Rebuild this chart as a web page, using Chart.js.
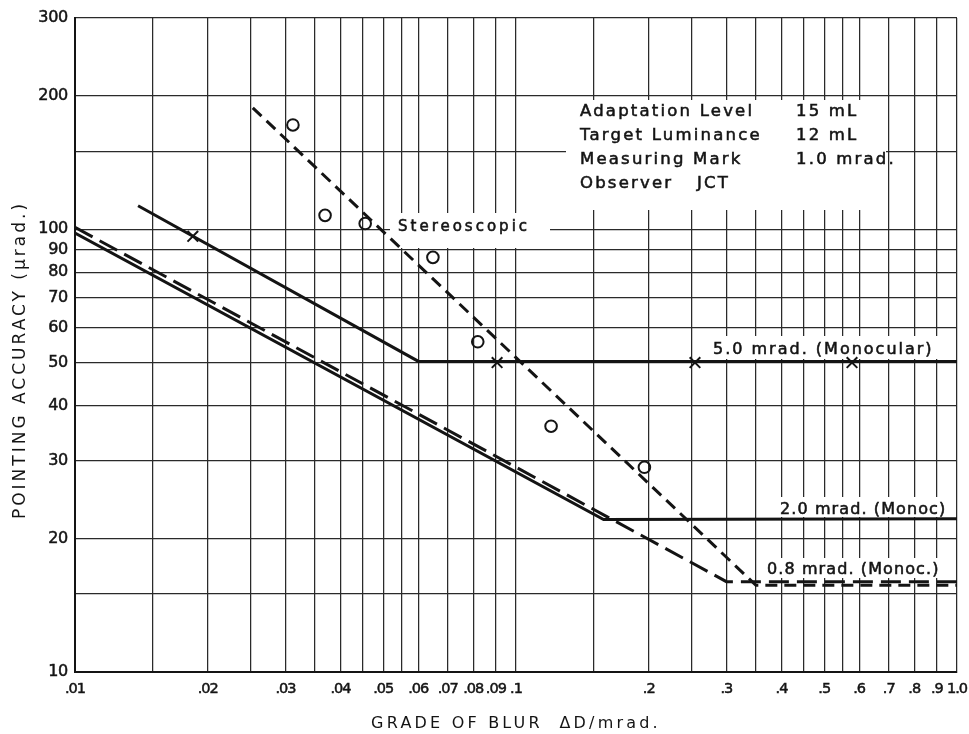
<!DOCTYPE html>
<html>
<head>
<meta charset="utf-8">
<script src="https://cdn.jsdelivr.net/npm/chart.js@4.4.1/dist/chart.umd.min.js"></script>
<style>
  html, body { margin: 0; padding: 0; background: #fff; }
  canvas { display: block; }
</style>
</head>
<body>
<canvas id="c" width="969" height="734" style="width:969px;height:734px"></canvas>
<script>
// ---- Data ----
const xGridValues = [0.01, 0.015, 0.02, 0.025, 0.03, 0.035, 0.04, 0.045, 0.05, 0.055, 0.06, 0.07, 0.08, 0.09, 0.1,
                     0.15, 0.2, 0.25, 0.3, 0.35, 0.4, 0.45, 0.5, 0.55, 0.6, 0.7, 0.8, 0.9, 1.0];
const xTickLabels = ['.01', '', '.02', '', '.03', '', '.04', '', '.05', '', '.06', '.07', '.08', '.09', '.1',
                     '', '.2', '', '.3', '', '.4', '', '.5', '', '.6', '.7', '.8', '.9', '1.0'];
const yGridValues = [10, 15, 20, 30, 40, 50, 60, 70, 80, 90, 100, 150, 200, 300];
const yTickLabels = ['10', '', '20', '30', '40', '50', '60', '70', '80', '90', '100', '', '200', '300'];

// Fitted curves
const mono50X = [0.0139, 0.0601, 1.0];
const mono50Y = [113, 50.3, 50.3];
const mono20X = [0.01, 0.158, 1.0];
const mono20Y = [98, 22.1, 22.2];
const mono08X = [0.01, 0.30, 1.0];
const mono08Y = [101, 16.0, 16.0];
const stereoX = [0.0253, 0.35, 1.0];
const stereoY = [188, 15.7, 15.7];

// Measured points
const stereoPtsX = [0.0312, 0.0369, 0.0455, 0.0648, 0.0819, 0.1201, 0.1955];
const stereoPtsY = [172, 107.5, 103, 86.4, 55.7, 35.9, 29.0];
const monoPtsX = [0.0185, 0.0906, 0.2546, 0.578];
const monoPtsY = [96.4, 50, 50, 50];

// Text
const noteLabels = ['Adaptation Level', 'Target Luminance', 'Measuring Mark', 'Observer'];
const noteValues = ['15 mL', '12 mL', '1.0 mrad.', 'JCT'];
const stereoLabel = 'Stereoscopic';
const curveLabels = ['5.0 mrad. (Monocular)', '2.0 mrad. (Monoc)', '0.8 mrad. (Monoc.)'];
const xTitle = 'GRADE OF BLUR  ΔD/mrad.';
const yTitle = 'POINTING ACCURACY (µrad.)';

const pts = (xs, ys) => xs.map((x, i) => ({ x: x, y: ys[i] }));
const INK = '#141414';
const FONT = '"DejaVu Sans", sans-serif';

const bgPlugin = {
  id: 'bg',
  beforeDraw(chart) {
    const c = chart.ctx;
    c.save();
    c.fillStyle = '#fff';
    c.fillRect(0, 0, chart.width, chart.height);
    c.restore();
    // letter-spaced axis titles and tick labels
    Object.values(chart.scales).forEach(s => {
      if (!s._lsPatched) {
        const origTitle = s.drawTitle.bind(s);
        s.drawTitle = function () {
          const k = chart.ctx;
          k.save();
          if (s.axis === 'x') {
            k.letterSpacing = '3.2px';
          } else {
            k.letterSpacing = '3px';
            k.translate(0, 15);
          }
          origTitle();
          k.restore();
        };
        const origLabels = s.drawLabels.bind(s);
        s.drawLabels = function (area) {
          const k = chart.ctx;
          k.save();
          k.letterSpacing = s.axis === 'x' ? '-1px' : '-0.3px';
          origLabels(area);
          k.restore();
        };
        s._lsPatched = true;
      }
    });
  }
};

function boldText(c, t, x, y) {
  c.fillText(t, x, y);
  c.strokeText(t, x, y);
}

const notePlugin = {
  id: 'notes',
  beforeDatasetsDraw(chart) {
    const c = chart.ctx;
    c.save();
    // white backgrounds that interrupt the grid
    c.fillStyle = '#fff';
    c.fillRect(566, 100, 320, 110);   // info block
    c.fillRect(390, 213, 160, 35);    // Stereoscopic
    c.fillRect(702, 336, 246, 23);    // 5.0
    c.fillRect(772, 497, 178, 20);    // 2.0
    c.fillRect(760, 558, 190, 20);    // 0.8

    c.fillStyle = INK;
    c.strokeStyle = INK;
    c.lineWidth = 0.55;
    c.textBaseline = 'middle';
    c.textAlign = 'left';
    c.font = '16.5px ' + FONT;
    c.letterSpacing = '2.2px';
    const rows = [112, 136, 160, 184];
    noteLabels.forEach((t, i) => boldText(c, t, 580, rows[i]));
    noteValues.forEach((t, i) => boldText(c, t, i === 3 ? 697 : 796, rows[i]));

    c.font = '15px ' + FONT;
    c.letterSpacing = '3px';
    boldText(c, stereoLabel, 398, 227);

    c.font = '16px ' + FONT;
    c.letterSpacing = '2px';
    boldText(c, curveLabels[0], 713, 350);
    c.letterSpacing = '1.1px';
    boldText(c, curveLabels[1], 780, 510);
    boldText(c, curveLabels[2], 767, 570);
    c.restore();
  }
};

const lineDs = (label, xs, ys, dash) => ({
  label: label,
  data: pts(xs, ys),
  showLine: true,
  borderColor: INK,
  borderWidth: 3,
  borderDash: dash,
  pointRadius: 0,
  fill: false,
  tension: 0
});

new Chart(document.getElementById('c'), {
  type: 'scatter',
  data: {
    datasets: [
      lineDs('5.0 mrad. (Monocular)', mono50X, mono50Y, []),
      lineDs('2.0 mrad. (Monoc)', mono20X, mono20Y, []),
      lineDs('0.8 mrad. (Monoc.)', mono08X, mono08Y, [20, 8]),
      lineDs('Stereoscopic', stereoX, stereoY, [12, 7]),
      {
        label: 'Stereoscopic data',
        data: pts(stereoPtsX, stereoPtsY),
        showLine: false,
        pointStyle: 'circle',
        pointRadius: 5.8,
        pointBorderWidth: 2,
        pointBorderColor: INK,
        pointBackgroundColor: 'rgba(255,255,255,0)'
      },
      {
        label: 'Monocular data',
        data: pts(monoPtsX, monoPtsY),
        showLine: false,
        pointStyle: 'crossRot',
        pointRadius: 7.5,
        pointBorderWidth: 2,
        pointBorderColor: INK
      }
    ]
  },
  options: {
    responsive: false,
    animation: false,
    devicePixelRatio: 1,
    layout: { padding: { top: 18, right: 12, left: 0, bottom: 0 } },
    plugins: { legend: { display: false }, tooltip: { enabled: false } },
    scales: {
      x: {
        type: 'logarithmic',
        min: 0.01,
        max: 1.0,
        afterBuildTicks: s => { s.ticks = xGridValues.map(v => ({ value: v })); },
        afterFit: s => { s.height = 62; s.paddingLeft = 0; s.paddingRight = 0; },
        ticks: {
          autoSkip: false, maxRotation: 0, minRotation: 0, padding: 9,
          color: INK, font: { family: FONT, size: 14.5 },
          textStrokeColor: INK, textStrokeWidth: 0.5,
          callback: (v, i) => xTickLabels[i]
        },
        grid: { color: '#2a2a2a', lineWidth: 1.25, drawTicks: false },
        border: { color: INK, width: 2 },
        title: { display: true, text: xTitle, color: INK, font: { family: FONT, size: 16 }, padding: { top: 0, bottom: 1 } }
      },
      y: {
        type: 'logarithmic',
        min: 10,
        max: 300,
        afterBuildTicks: s => { s.ticks = yGridValues.map(v => ({ value: v })); },
        afterFit: s => { s.width = 75; },
        ticks: {
          autoSkip: false, padding: 7,
          color: INK, font: { family: FONT, size: 16 },
          textStrokeColor: INK, textStrokeWidth: 0.5,
          callback: (v, i) => yTickLabels[i]
        },
        grid: { color: '#2a2a2a', lineWidth: 1.25, drawTicks: false },
        border: { color: INK, width: 2 },
        title: { display: true, text: yTitle, color: INK, font: { family: FONT, size: 17 }, padding: { top: 10, bottom: 0 } }
      }
    }
  },
  plugins: [bgPlugin, notePlugin]
});
</script>
</body>
</html>
